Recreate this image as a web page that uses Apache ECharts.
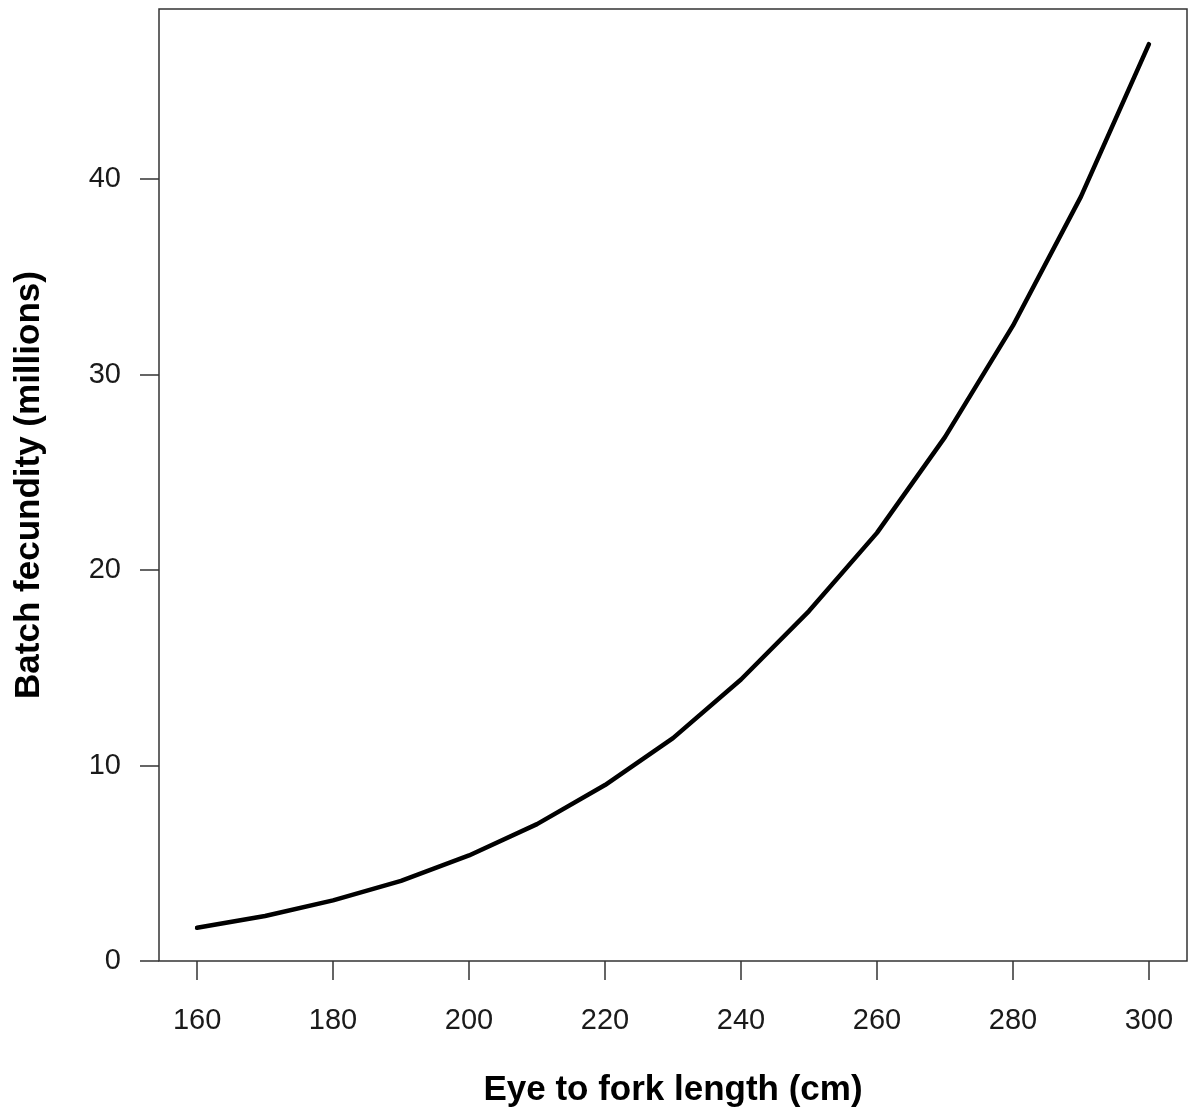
<!DOCTYPE html>
<html>
<head>
<meta charset="utf-8">
<script src="https://cdn.jsdelivr.net/npm/echarts@6/dist/echarts.min.js"></script>
<style>
  html, body { margin: 0; padding: 0; background: #fff; }
  #chart { width: 1188px; height: 1120px; }
</style>
</head>
<body>
<div id="chart"></div>
<script>
// eye to fork length (cm) and fitted batch fecundity (millions)
const lengths = [160, 170, 180, 190, 200, 210, 220, 230, 240, 250, 260, 270, 280, 290, 300];
const fecundity = [1.7, 2.3, 3.1, 4.1, 5.4, 7.0, 9.0, 11.4, 14.4, 17.9, 21.9, 26.8, 32.5, 39.1, 46.9];
const xTicks = [160, 180, 200, 220, 240, 260, 280, 300];
const yTicks = [0, 10, 20, 30, 40];

const chart = echarts.init(document.getElementById("chart"));
const font = "Liberation Sans, Arial, sans-serif";

chart.setOption({
  backgroundColor: "#fff",
  animation: false,
  grid: {
    left: 159,
    right: 1,
    top: 9,
    bottom: 159,
    show: true,
    borderColor: "#333",
    borderWidth: 1.5,
    backgroundColor: "transparent",
  },
  xAxis: {
    type: "value",
    min: 154.4,
    max: 305.6,
    name: "Eye to fork length (cm)",
    nameLocation: "middle",
    nameGap: 112,
    nameTextStyle: { fontFamily: font, fontSize: 35, fontWeight: "bold", color: "#000" },
    axisLine: { show: false },
    axisTick: {
      show: true,
      inside: false,
      length: 19,
      customValues: xTicks,
      lineStyle: { color: "#333", width: 1.5 },
    },
    axisLabel: {
      customValues: xTicks,
      margin: 45,
      fontFamily: font,
      fontSize: 29,
      color: "#1a1a1a",
    },
    splitLine: { show: false },
  },
  yAxis: {
    type: "value",
    min: 0,
    max: 48.7,
    name: "Batch fecundity (millions)",
    nameLocation: "middle",
    nameGap: 112,
    nameRotate: 90,
    nameTextStyle: { fontFamily: font, fontSize: 35, fontWeight: "bold", color: "#000" },
    axisLine: { show: false },
    axisTick: {
      show: true,
      inside: false,
      length: 19,
      customValues: yTicks,
      lineStyle: { color: "#333", width: 1.5 },
    },
    axisLabel: {
      customValues: yTicks,
      margin: 38,
      fontFamily: font,
      fontSize: 29,
      color: "#1a1a1a",
    },
    splitLine: { show: false },
  },
  series: [
    {
      type: "line",
      data: lengths.map((x, i) => [x, fecundity[i]]),
      smooth: false,
      symbol: "none",
      lineStyle: { color: "#000", width: 4.5, cap: "round", join: "round" },
    },
  ],
});
</script>
</body>
</html>
